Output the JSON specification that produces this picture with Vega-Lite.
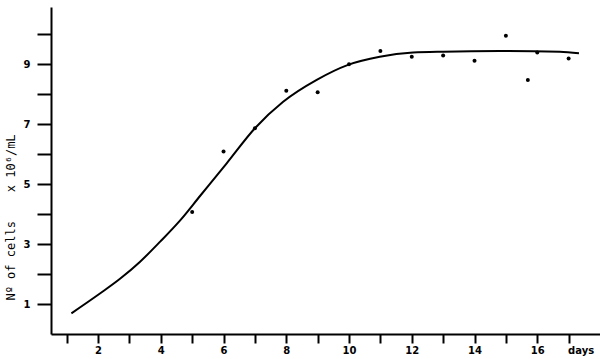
{
  "$schema": "https://vega.github.io/schema/vega-lite/v6.json",
  "width": 549,
  "height": 327,
  "autosize": {"type": "none"},
  "padding": {"left": 51, "top": 7, "right": 0, "bottom": 25},
  "background": "white",
  "config": {
    "view": {"stroke": null},
    "axis": {
      "domainColor": "black",
      "domainWidth": 2,
      "tickColor": "black",
      "tickWidth": 2,
      "grid": false,
      "labelColor": "black",
      "labelFont": "DejaVu Sans",
      "labelFontWeight": "bold",
      "labelFontSize": 10
    }
  },
  "datasets": {
    "obs": [
      {"day": 5, "cells": 4.07},
      {"day": 6, "cells": 6.08},
      {"day": 7, "cells": 6.86},
      {"day": 8, "cells": 8.11},
      {"day": 9, "cells": 8.06},
      {"day": 10, "cells": 8.99},
      {"day": 11, "cells": 9.43},
      {"day": 12, "cells": 9.24},
      {"day": 13, "cells": 9.28},
      {"day": 14, "cells": 9.11},
      {"day": 15, "cells": 9.94},
      {"day": 15.7, "cells": 8.47},
      {"day": 16, "cells": 9.38},
      {"day": 17, "cells": 9.18}
    ],
    "fit": [
      {"day": 1.15, "cells": 0.69},
      {"day": 2.06, "cells": 1.35},
      {"day": 2.7, "cells": 1.84},
      {"day": 3.34, "cells": 2.41},
      {"day": 3.98, "cells": 3.08},
      {"day": 4.61, "cells": 3.78},
      {"day": 5.25, "cells": 4.6},
      {"day": 6.1, "cells": 5.69},
      {"day": 7.0, "cells": 6.86},
      {"day": 7.9, "cells": 7.74},
      {"day": 8.97, "cells": 8.47},
      {"day": 9.97, "cells": 8.97},
      {"day": 10.98, "cells": 9.24},
      {"day": 12.04, "cells": 9.38},
      {"day": 13.0, "cells": 9.41},
      {"day": 14.8, "cells": 9.43},
      {"day": 16.72, "cells": 9.41},
      {"day": 17.33, "cells": 9.36}
    ]
  },
  "encoding": {
    "x": {
      "field": "day",
      "type": "quantitative",
      "scale": {"domain": [0.5, 18], "nice": false, "zero": false},
      "axis": {
        "title": null,
        "values": [1, 2, 3, 4, 5, 6, 7, 8, 9, 10, 11, 12, 13, 14, 15, 16, 17],
        "tickSize": 9,
        "labelPadding": 2,
        "labelExpr": "datum.value == 17 ? 'days' : (datum.value % 2 == 0 ? datum.label : '')",
        "labelOffset": {"condition": {"test": "datum.value == 17", "value": 12}, "value": 0},
        "labelBound": false,
        "labelOverlap": false,
        "labelFlush": false
      }
    },
    "y": {
      "field": "cells",
      "type": "quantitative",
      "scale": {"domain": [0, 10.9], "nice": false},
      "axis": {
        "title": "Nº of cells\u00a0\u00a0\u00a0\u00a0x 10⁶/mL",
        "titleFont": "DejaVu Sans Mono",
        "titleFontSize": 12,
        "titleFontWeight": "normal",
        "titleColor": "black",
        "titleX": -41,
        "titleY": 210,
        "titleAngle": -90,
        "titleAlign": "center",
        "titleBaseline": "middle",
        "values": [1, 2, 3, 4, 5, 6, 7, 8, 9, 10],
        "tickSize": 14,
        "labelPadding": 7,
        "labelExpr": "datum.value % 2 == 1 ? datum.label : ''",
        "labelOverlap": false,
        "labelBound": false
      }
    }
  },
  "layer": [
    {
      "data": {"name": "fit"},
      "mark": {"type": "line", "color": "black", "strokeWidth": 2, "interpolate": "monotone"}
    },
    {
      "data": {"name": "obs"},
      "mark": {"type": "circle", "color": "black", "opacity": 1, "size": 16}
    }
  ]
}
